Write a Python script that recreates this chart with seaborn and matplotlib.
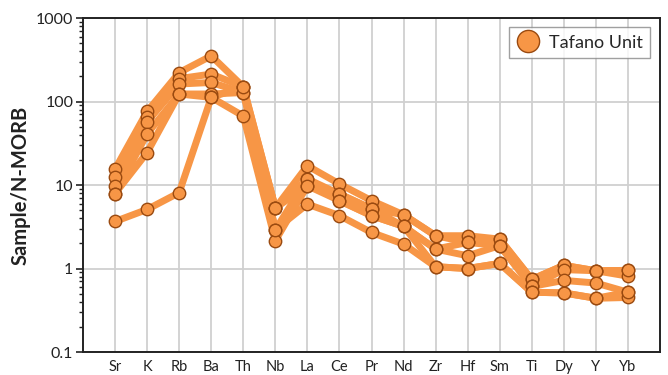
import numpy as np
import pandas as pd
import matplotlib
matplotlib.use("Agg")
import matplotlib.pyplot as plt
from matplotlib.lines import Line2D
from matplotlib.ticker import LogLocator, FixedLocator, FixedFormatter, NullFormatter
import seaborn as sns

elements = ["Sr", "K", "Rb", "Ba", "Th", "Nb", "La", "Ce", "Pr", "Nd",
            "Zr", "Hf", "Sm", "Ti", "Dy", "Y", "Yb"]

s1 = [15.5, 76, 222, 352, 150, 5.3, 17.0, 10.3, 6.5, 4.4, 2.47, 2.47, 2.25, 0.74, 1.09, 0.94, 0.95]
s2 = [12.3, 65, 188, 213, 150, 5.3, 11.8, 7.8, 5.2, 4.4, 2.47, 2.05, 2.25, 0.74, 1.09, 0.94, 0.81]
s3 = [9.8, 57, 162, 169, 128, 5.3, 9.8, 7.8, 5.2, 3.2, 1.71, 2.05, 1.88, 0.61, 0.97, 0.94, 0.95]
s4 = [7.9, 41, 123, 123, 128, 2.92, 11.8, 6.5, 4.3, 3.2, 1.71, 1.42, 1.88, 0.61, 0.72, 0.67, 0.52]
s5 = [7.9, 24.5, 123, 112, 67, 2.15, 9.8, 6.5, 4.3, 3.2, 1.05, 1.0, 1.15, 0.52, 0.51, 0.44, 0.45]
s6 = [3.66, 5.1, 8.1, 112, 150, 2.92, 5.9, 4.3, 2.7, 1.96, 1.05, 1.0, 1.15, 0.52, 0.51, 0.44, 0.52]

samples = {"S1": s1, "S2": s2, "S3": s3, "S4": s4, "S5": s5, "S6": s6}
legend_label = "Tafano Unit"
y_ticks = [0.1, 1, 10, 100, 1000]
y_tick_labels = ["0.1", "1", "10", "100", "1000"]

rows = []
for name, vals in samples.items():
    for i, (el, v) in enumerate(zip(elements, vals)):
        rows.append({"sample": name, "element": el, "pos": i, "value": v})
df = pd.DataFrame(rows)

sns.set_theme(style="white")
plt.rcParams["font.family"] = ["Lato", "DejaVu Sans"]

orange = "#F79646"
edge = "#9A4A10"

fig = plt.figure(figsize=(6.68, 3.75), dpi=100)
ax = fig.add_axes([0.1243, 0.0613, 0.988 - 0.1243, 0.952 - 0.0613])

sns.lineplot(data=df, x="pos", y="value", units="sample", estimator=None,
             color=orange, linewidth=5.0, ax=ax, zorder=2, legend=False)
sns.scatterplot(data=df, x="pos", y="value", color=orange, edgecolor=edge,
                linewidth=1.0, s=80, ax=ax, zorder=3, legend=False)

ax.set_yscale("log")
ax.set_ylim(0.1, 1000)
ax.set_xlim(-1, len(elements))
ax.xaxis.set_major_locator(FixedLocator(range(len(elements))))
ax.xaxis.set_major_formatter(FixedFormatter(elements))
ax.yaxis.set_major_locator(FixedLocator(y_ticks))
ax.yaxis.set_major_formatter(FixedFormatter(y_tick_labels))
ax.yaxis.set_minor_locator(LogLocator(base=10, subs=np.arange(2, 10)))
ax.yaxis.set_minor_formatter(NullFormatter())

ax.grid(True, which="major", color="#D0D0D0", linewidth=1.3, zorder=0)
ax.set_axisbelow(True)

ax.tick_params(axis="x", length=0, pad=6, labelsize=10.5, colors="#222222")
ax.tick_params(axis="y", which="major", length=5, width=1.2, direction="out",
               left=True, pad=2, labelsize=11.5, colors="#222222")
ax.tick_params(axis="y", which="minor", length=3, width=1.0, direction="out", left=True, color="#222222")

for sp in ax.spines.values():
    sp.set_color("#222222")
    sp.set_linewidth(1.4)

ax.set_xlabel("")
ax.set_ylabel("Sample/N-MORB", fontsize=14.5, fontweight="bold", color="#222222", labelpad=4)

handle = Line2D([], [], linestyle="none", marker="o", markersize=16,
                markerfacecolor=orange, markeredgecolor=edge, markeredgewidth=1.0)
leg = ax.legend([handle], [legend_label], loc="upper right", bbox_to_anchor=(0.983, 0.972),
                frameon=True, fancybox=False, fontsize=13, handletextpad=0.5,
                borderpad=0.4, handlelength=1.3, borderaxespad=0)
leg.get_frame().set_edgecolor("#888888")
leg.get_frame().set_linewidth(1.0)

fig.savefig("out.png", dpi=100)
